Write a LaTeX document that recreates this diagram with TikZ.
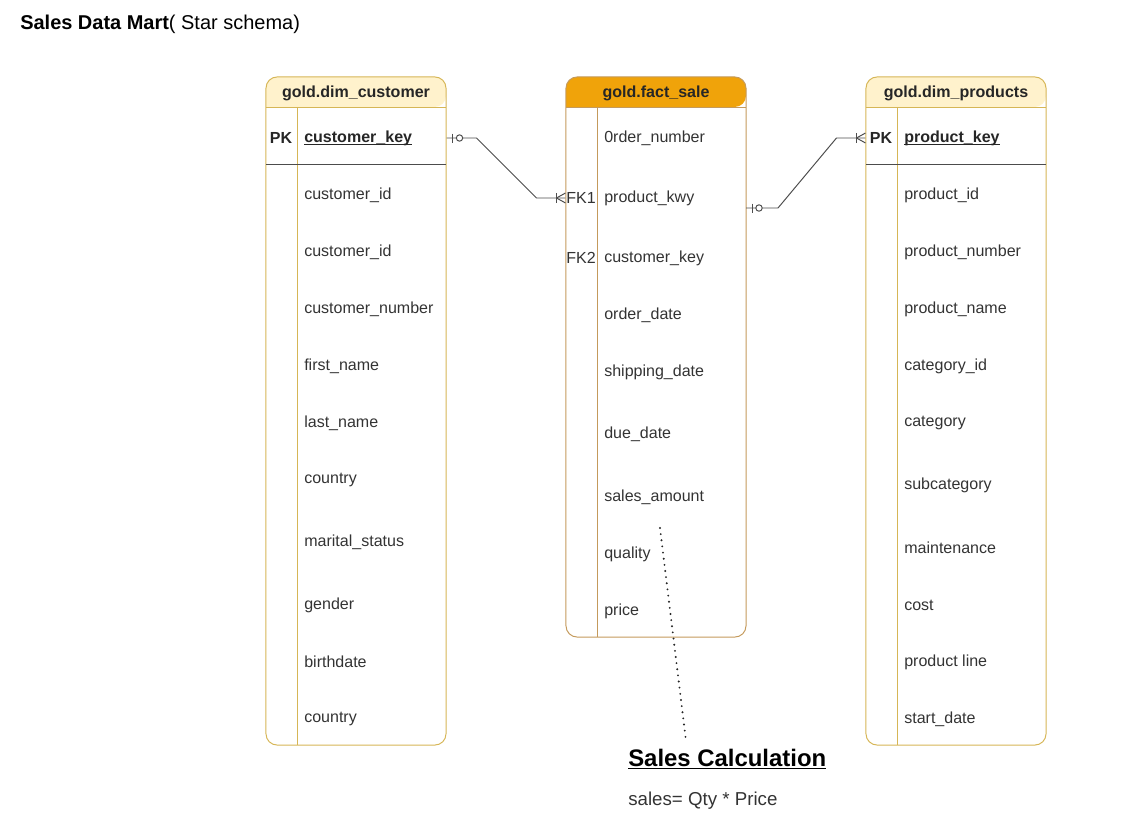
\documentclass[tikz,border=0pt]{standalone}
\usepackage{fontspec}
\setmainfont{Liberation Sans}
\usepackage{tikz}
\definecolor{dimfill}{HTML}{FFF2CC}
\definecolor{dimline}{HTML}{D6B656}
\definecolor{factfill}{HTML}{F0A30A}
\definecolor{factline}{HTML}{C49A5C}
\definecolor{relcolor}{HTML}{4D4D4D}
\definecolor{txtcolor}{HTML}{333333}
\usetikzlibrary{positioning, calc}
\newcommand{\keyname}[1]{\setbox0\hbox{#1}\rlap{\rule[-1.9pt]{\wd0}{0.6pt}}\box0}

\begin{document}
\begin{tikzpicture}[
    x=0.025cm, y=-0.025cm,
    tbl/.style={rectangle, draw, rounded corners=8pt, minimum width=4.5cm, line width=0.7pt, inner sep=0pt},
    hdr/.style={font=\fontsize{11.4}{13}\selectfont\bfseries, text=black!85, yshift=-0.03cm},
    row/.style={anchor=west, font=\fontsize{11.4}{13}\selectfont, text=txtcolor, inner sep=0pt, yshift=-0.05cm},
    keyrow/.style={row, font=\fontsize{11.4}{13}\selectfont\bfseries, text=black!85},
    tag/.style={font=\fontsize{11.4}{13}\selectfont, text=txtcolor, inner sep=0pt, yshift=-0.05cm},
    rel/.style={draw=relcolor, line width=0.7pt},
    note/.style={draw=black!85, line width=1.5pt, line cap=round, dash pattern=on 0pt off 4.4pt}
]
    \useasboundingbox (0,0) rectangle (1131,821);

    % title
    \node[anchor=west, inner sep=0pt, font=\fontsize{14.2}{17}\selectfont, yshift=-0.05cm] (title) at (20,22) {\textbf{Sales Data Mart}( Star schema)};

    % header fills
    \fill[dimfill, rounded corners=8pt] (266,107) -- (266,77) -- (446,77) -- (446,107) [sharp corners] -- cycle;
    \fill[factfill, rounded corners=8pt] (566,107) -- (566,77) -- (746,77) -- (746,107) [sharp corners] -- cycle;
    \fill[dimfill, rounded corners=8pt] (866,107) -- (866,77) -- (1046,77) -- (1046,107) [sharp corners] -- cycle;

    % tables
    \node[tbl, draw=dimline, minimum height=16.7cm] (cust) at (356,411) {};
    \node[tbl, draw=factline, minimum height=14cm] (fact) at (656,357) {};
    \node[tbl, draw=dimline, minimum height=16.7cm] (prod) at (956,411) {};

    \draw[dimline, line width=0.7pt] (266,107) -- (446,107) (297,107) -- (297,745);
    \draw[factline, line width=0.7pt] (566,107) -- (746,107) (597,107) -- (597,637);
    \draw[dimline, line width=0.7pt] (866,107) -- (1046,107) (897,107) -- (897,745);
    \draw[black!70, line width=0.7pt] (266,164) -- (446,164);
    \draw[black!70, line width=0.7pt] (866,164) -- (1046,164);

    % gold.dim_customer
    \node[hdr] (custh) at (356,92) {gold.dim\_customer};
    \node[tag, font=\fontsize{11.4}{13}\selectfont\bfseries, text=black!85] (cpk) at (281,136) {PK};
    \node[keyrow] (ckey) at (304,136) {\keyname{customer\_key}};
    \node[row] (c1) at (304,193) {customer\_id};
    \node[row] (c2) at (304,250) {customer\_id};
    \node[row] (c3) at (304,307) {customer\_number};
    \node[row] (c4) at (304,364) {first\_name};
    \node[row] (c5) at (304,421) {last\_name};
    \node[row] (c6) at (304,478) {country};
    \node[row] (c7) at (304,540) {marital\_status};
    \node[row] (c8) at (304,603) {gender};
    \node[row] (c9) at (304,660) {birthdate};
    \node[row] (c10) at (304,717) {country};

    % gold.fact_sale
    \node[hdr] (facth) at (656,92) {gold.fact\_sale};
    \node[row] (f1) at (604,136) {0rder\_number};
    \node[tag] (fk1) at (581,196) {FK1};
    \node[row] (f2) at (604,196) {product\_kwy};
    \node[tag] (fk2) at (581,256) {FK2};
    \node[row] (f3) at (604,256) {customer\_key};
    \node[row] (f4) at (604,313) {order\_date};
    \node[row] (f5) at (604,370) {shipping\_date};
    \node[row] (f6) at (604,432) {due\_date};
    \node[row] (amt) at (604,495) {sales\_amount};
    \node[row] (f8) at (604,552) {quality};
    \node[row] (f9) at (604,609) {price};

    % gold.dim_products
    \node[hdr] (prodh) at (956,92) {gold.dim\_products};
    \node[tag, font=\fontsize{11.4}{13}\selectfont\bfseries, text=black!85] (ppk) at (881,136) {PK};
    \node[keyrow] (pkey) at (904,136) {\keyname{product\_key}};
    \node[row] (p1) at (904,193) {product\_id};
    \node[row] (p2) at (904,250) {product\_number};
    \node[row] (p3) at (904,307) {product\_name};
    \node[row] (p4) at (904,364) {category\_id};
    \node[row] (p5) at (904,421) {category};
    \node[row] (p6) at (904,483) {subcategory};
    \node[row] (p7) at (904,546) {maintenance};
    \node[row] (p8) at (904,603) {cost};
    \node[row] (p9) at (904,660) {product line};
    \node[row] (p10) at (904,717) {start\_date};

    % customer_key -> FK1
    \draw[rel] (ckey -| cust.east) -- ++(30,0) -- ($(fk1 -| fact.west)+(-29,0)$) -- (fk1 -| fact.west);
    \draw[rel] ($(ckey -| cust.east)+(6,-4.5)$) -- ++(0,9);
    \draw[rel, fill=white] ($(ckey -| cust.east)+(13,0)$) circle (3.2);
    \draw[rel] ($(fk1 -| fact.west)+(-9,-5)$) -- ++(0,10);
    \draw[rel] ($(fk1 -| fact.west)+(-9,0)$) -- ++(9,-5) ($(fk1 -| fact.west)+(-9,0)$) -- ++(9,5);

    % fact -> product_key
    \coordinate (fr) at (746,208);
    \draw[rel] (fr) -- ++(32,0) -- ($(pkey -| prod.west)+(-29,0)$) -- (pkey -| prod.west);
    \draw[rel] ($(fr)+(6,-4.5)$) -- ++(0,9);
    \draw[rel, fill=white] ($(fr)+(13,0)$) circle (3.2);
    \draw[rel] ($(pkey -| prod.west)+(-9,-5)$) -- ++(0,10);
    \draw[rel] ($(pkey -| prod.west)+(-9,0)$) -- ++(9,-5) ($(pkey -| prod.west)+(-9,0)$) -- ++(9,5);

    % sales calculation note
    \node[anchor=west, inner sep=0pt, font=\fontsize{17}{20}\selectfont\bfseries, yshift=-0.03cm] (calc) at (628,758) {\underline{Sales Calculation}};
    \node[anchor=west, inner sep=0pt, font=\fontsize{13.3}{16}\selectfont, text=txtcolor, yshift=-0.05cm] (formula) at (628,799) {sales= Qty * Price};
    \coordinate (dA) at (660,528);
    \coordinate (dB) at (686,741);
    \draw[note] (dA) -- (dB);
\end{tikzpicture}
\end{document}
